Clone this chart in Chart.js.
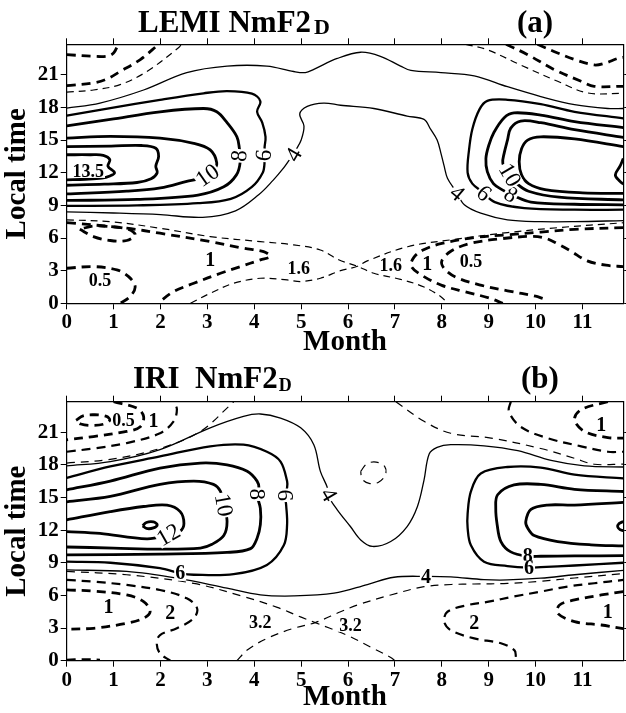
<!DOCTYPE html>
<html>
<head>
<meta charset="utf-8">
<script src="https://cdn.jsdelivr.net/npm/chart.js@4"></script>
<style>
  html, body { margin: 0; padding: 0; background: #fff; overflow: hidden; }
  #wrap { position: relative; width: 626px; height: 713px; }
  canvas { position: absolute; left: 0; }
  .ttl { position: absolute; font-family: "Liberation Serif", "Times New Roman", serif; font-weight: bold;
         font-size: 31px; line-height: 1; white-space: pre; color: #000; }
  .sub { position: relative; }
</style>
</head>
<body>
<div id="wrap">
  <canvas id="chartA" width="626" height="360" style="top:0"></canvas>
  <canvas id="chartB" width="626" height="355" style="top:360px"></canvas>
  <div class="ttl" style="left:138px;top:6px">LEMI NmF2<span class="sub" style="font-size:22px;top:2px;margin-left:3px">D</span></div>
  <div class="ttl" style="left:517px;top:6px">(a)</div>
  <div class="ttl" style="left:133px;top:362px">IRI  NmF2<span class="sub" style="font-size:18px;top:3px;margin-left:1px">D</span></div>
  <div class="ttl" style="left:521px;top:362px">(b)</div>
</div>
<script>
// axis ranges and tick labels
const monthTicks = [0, 1, 2, 3, 4, 5, 6, 7, 8, 9, 10, 11];
const hourTicks = [0, 3, 6, 9, 12, 15, 18, 21];
const monthMax = 11.87;
const hourMax = 23.8;

// ---- panel (a) LEMI contours, points are [month, local time] ----
const aTop05 = [[0,22.85],[0.57,22.7],[0.85,22.7],[1.0,23.0],[1.1,23.8]];
const aTop1 = [[0,20.0],[0.57,20.25],[0.85,20.6],[1.14,21.3],[1.57,22.4],[1.96,23.8]];
const aTop16 = [[0,19.4],[0.57,19.6],[1.14,20.1],[1.71,21.3],[2.39,23.5],[2.45,23.8]];
const aOuter = [[0,17.94],[0.71,18.4],[1.64,19.6],[2.56,21.2],[3.42,21.8],[4.27,21.8],[4.84,21.3],[5.09,21.2],[5.27,21.5],[5.77,22.5],[6.27,23.07],[6.69,22.7],[7.12,21.8],[7.34,21.4],[7.98,21.2],[8.69,20.9],[9.4,19.9],[10.11,19.0],[10.83,18.25],[11.54,17.9],[11.87,17.9]];
const a4 = [[0,8.4],[1.0,8.3],[2.0,8.15],[2.9,7.9],[3.6,8.5],[4.1,10.0],[4.4,11.3],[4.6,12.3],[4.75,13.2],[4.9,14.2],[5.0,15.0],[5.06,16.3],[4.97,17.4],[5.13,18.1],[5.48,18.4],[5.84,18.2],[6.55,17.9],[7.26,17.2],[7.62,16.9],[7.76,16.0],[7.9,15.0],[7.98,13.8],[8.05,12.6],[8.12,11.5],[8.3,10.3],[8.48,9.05],[8.83,8.28],[9.4,7.67],[10.11,7.5],[10.83,7.5],[11.87,7.6]];
const a6L = [[0,17.24],[0.93,17.94],[1.99,18.7],[2.92,19.3],[3.42,19.5],[3.95,19.26],[4.13,18.56],[4.06,17.6],[4.17,16.6],[4.24,15.3],[4.22,14.3],[4.22,13.0],[4.18,12.0],[3.95,10.7],[3.5,9.6],[2.8,9.2],[1.5,9.0],[0,8.95]];
const a8L = [[0,16.3],[0.93,16.9],[1.99,17.6],[2.92,17.9],[3.2,17.6],[3.42,16.6],[3.63,15.3],[3.68,14.3],[3.7,13.0],[3.62,11.8],[3.35,10.7],[2.8,9.95],[1.5,9.55],[0,9.45]];
const a10L = [[0,15.18],[0.93,15.34],[1.99,15.18],[2.71,14.7],[3.06,14.1],[3.2,12.9],[3.12,12.2],[2.85,11.5],[2.56,11.2],[2.0,10.6],[1.28,10.3],[0,10.05]];
const a12L = [[0,14.4],[0.95,14.45],[1.6,14.5],[1.9,14.25],[1.96,13.5],[1.9,12.6],[1.93,12.0],[1.8,11.45],[1.5,11.1],[0.8,10.95],[0,10.85]];
const a135L = [[0,13.65],[0.5,13.65],[0.78,13.6],[0.92,13.2],[0.88,12.6],[1.02,12.0],[0.92,11.7],[0.75,11.5],[0.4,11.4],[0,11.35]];
const a6R = [[11.87,17.0],[10.83,17.6],[10.11,18.3],[9.4,18.7],[8.97,18.6],[8.8,17.8],[8.65,16.0],[8.58,14.1],[8.55,12.0],[8.65,11.0],[8.85,10.3],[9.13,9.3],[9.76,8.75],[10.83,8.6],[11.87,8.6]];
const a8R = [[11.87,16.15],[10.83,16.7],[10.11,17.3],[9.54,17.5],[9.33,17.06],[9.11,15.7],[9.0,14.5],[8.94,13.3],[8.97,12.1],[9.1,11.0],[9.3,10.4],[9.55,9.85],[9.9,9.3],[10.83,9.1],[11.87,9.05]];
const a10R = [[11.87,15.25],[10.83,15.95],[10.11,16.6],[9.68,16.75],[9.47,16.1],[9.4,15.0],[9.33,13.8],[9.3,12.9],[9.4,12.0],[9.6,11.0],[9.85,10.3],[10.5,9.75],[11.87,9.5]];
const a12R = [[11.87,14.4],[10.83,15.1],[10.11,15.3],[9.83,15.0],[9.7,14.2],[9.65,13.0],[9.7,11.8],[9.85,11.0],[10.2,10.45],[11.0,10.15],[11.87,10.1]];
const a135R = [[11.87,13.3],[11.8,12.6],[11.7,11.8],[11.8,11.2],[11.87,10.95]];
const aTopR05 = [[10.04,23.8],[10.47,23.0],[10.83,22.4],[11.25,21.9],[11.47,22.05],[11.75,22.5],[11.87,22.6]];
const aTopR1 = [[9.37,23.8],[9.83,22.85],[10.4,21.47],[10.97,20.4],[11.25,19.94],[11.87,19.94]];
const aTopR16 = [[8.51,23.8],[8.97,23.3],[9.68,21.9],[10.47,20.4],[11.11,19.33],[11.87,19.3]];
const aNight16a = [[0,7.67],[0.93,7.5],[1.99,6.9],[3.06,6.13],[4.13,5.67],[4.84,5.37],[5.41,4.9],[5.8,4.0],[6.2,3.4],[6.55,2.76],[7.12,2.2],[7.62,1.5],[7.98,0.61],[8.12,0]];
const aNight16b = [[2.64,0],[3.06,0.92],[3.56,1.84],[4.13,2.3],[4.7,2.15],[5.0,2.0],[5.41,2.3],[5.84,3.0],[6.2,3.4],[6.41,3.9],[7.27,5.2],[8.19,5.83],[9.4,6.5],[10.47,6.95],[11.87,7.4]];
const aNight1L = [[0,7.42],[1.28,6.9],[1.99,6.44],[3.06,5.67],[3.77,5.06],[4.2,4.75],[4.34,4.3],[4.13,3.99],[3.7,3.37],[3.28,2.76],[2.71,1.84],[2.28,1.07],[1.99,0.15],[1.97,0]];
const aLoop05 = [[0.28,6.8],[0.57,6.13],[0.93,5.77],[1.28,5.77],[1.46,6.29],[1.32,6.8],[0.93,7.05],[0.57,7.1],[0.28,6.8]];
const aNight05L = [[0,3.22],[0.57,3.37],[1.07,3.07],[1.32,2.45],[1.46,1.53],[1.35,0.61],[1.14,0]];
const aNight1R = [[9.3,0],[9.0,0.5],[8.5,1.05],[8.0,1.65],[7.6,2.5],[7.35,3.4],[7.4,4.2],[7.6,4.9],[8.0,5.5],[8.7,6.05],[9.4,6.3],[10.11,6.55],[10.83,6.8],[11.87,6.95]];
const aNight05R = [[10.15,0.45],[10.0,0.65],[9.4,1.15],[8.8,1.7],[8.3,2.4],[8.05,3.2],[8.0,3.9],[8.2,4.8],[8.6,5.5],[9.3,5.95],[9.9,6.15],[10.2,6.0],[10.5,5.4],[10.75,4.8],[11.1,3.9],[11.5,3.5],[11.87,3.37]];

const contoursA = [
  [aTop05, 0.5], [aTop1, 1], [aTop16, 1.6], [aOuter, 3], [a4, 4],
  [a6L, 6], [a8L, 8], [a10L, 10], [a12L, 12], [a135L, 13.5],
  [a6R, 6], [a8R, 8], [a10R, 10], [a12R, 12], [a135R, 13.5],
  [aTopR05, 0.5], [aTopR1, 1], [aTopR16, 1.6],
  [aNight16a, 1.6], [aNight16b, 1.6], [aNight1L, 1], [aLoop05, 0.5], [aNight05L, 0.5],
  [aNight1R, 1], [aNight05R, 0.5]
];
const labelsA = [["13.5",0.46,12.15],["10",3.0,11.75],["8",3.68,13.55],["6",4.2,13.6],["4",4.84,13.65],
  ["4",8.33,10.1],["6",8.9,10.1],["8",9.47,10.0],["10",9.45,11.8],
  ["0.5",0.71,2.15],["1",3.06,4.0],["1.6",4.95,3.2],["1.6",6.91,3.5],["1",7.69,3.62],["0.5",8.62,3.83]];
const anglesA = [0,-35,-85,-85,-60, 40,40,30,60, 0,0,0,0,0,0];

// ---- panel (b) IRI contours ----
const b05 = [[0.2,22.1],[0.35,22.5],[0.6,22.6],[0.85,22.45],[0.92,22.1],[0.8,21.75],[0.55,21.62],[0.3,21.75],[0.2,22.1]];
const bTop1 = [[1.0,23.8],[1.5,23.2],[1.64,22.45],[1.57,21.5],[1.28,21.07],[0.57,20.6],[0,20.3]];
const bTop2 = [[0,19.2],[0.57,19.5],[1.28,20.0],[1.99,20.9],[2.28,22.0],[2.35,23.1],[2.28,23.8]];
const bTop32 = [[0,18.16],[0.93,18.5],[1.99,19.5],[2.85,21.07],[3.49,23.5],[3.56,23.8]];
const b4 = [[0,17.9],[0.93,18.3],[1.99,19.4],[3.06,21.4],[3.77,22.45],[4.13,22.67],[4.56,22.3],[4.99,21.4],[5.27,19.85],[5.41,17.4],[5.56,15.9],[5.6,15.0],[5.77,13.87],[6.05,12.33],[6.27,11.1],[6.52,10.5],[6.91,10.95],[7.26,12.33],[7.48,14.17],[7.62,16.6],[7.73,19.0],[7.9,19.6],[8.19,19.85],[8.9,19.75],[9.62,19.3],[10.33,18.4],[11.04,17.9],[11.87,17.8]];
const b4low = [[0,8.34],[1.28,8.2],[2.35,7.58],[3.42,6.66],[4.13,6.05],[4.84,5.95],[5.7,6.2],[6.41,7.0],[6.98,7.67],[7.66,7.75],[8.19,7.7],[8.9,7.45],[9.4,7.42],[10.11,7.58],[10.83,7.9],[11.87,8.3]];
const b6L = [[0,16.8],[0.93,17.85],[1.99,18.77],[3.06,19.7],[3.77,19.85],[4.27,19.2],[4.56,18.3],[4.7,16.5],[4.7,15.9],[4.66,15.2],[4.68,14.3],[4.7,12.5],[4.63,10.6],[4.27,8.8],[3.56,7.95],[2.71,7.9],[2.42,8.05],[1.99,8.5],[0.93,9.0],[0,9.1]];
const b8L = [[0,15.7],[0.93,16.5],[1.99,17.7],[2.85,18.16],[3.42,18.0],[3.85,17.4],[4.06,16.5],[4.1,15.86],[4.06,15.25],[4.13,14.0],[4.13,12.5],[4.06,11.26],[3.92,10.3],[3.42,9.95],[1.99,9.8],[0,9.72]];
const b10L = [[0,14.6],[0.93,15.1],[1.99,16.2],[2.71,16.5],[3.13,16.2],[3.28,15.55],[3.35,14.3],[3.42,12.8],[3.35,11.5],[3.1,10.7],[2.85,10.35],[2.0,10.25],[1.0,10.35],[0,10.45]];
const b12L = [[0,12.94],[0.93,13.7],[1.64,14.17],[2.14,14.3],[2.42,13.7],[2.5,12.6],[2.42,11.9],[2.17,11.56],[1.71,11.2],[0.71,11.7],[0,11.87]];
const b12Loop = [[1.62,12.4],[1.7,12.7],[1.85,12.75],[1.93,12.5],[1.85,12.2],[1.7,12.15],[1.62,12.4]];
const b6R = [[11.87,16.75],[10.83,17.1],[10.11,17.75],[9.4,17.8],[8.83,17.2],[8.62,15.55],[8.55,13.5],[8.55,12.2],[8.62,10.6],[8.9,9.1],[9.4,8.7],[9.86,8.55],[10.11,8.6],[10.83,8.75],[11.87,9.0]];
const b8R = [[11.87,15.55],[10.83,15.75],[10.11,16.2],[9.54,16.15],[9.19,15.25],[9.15,14.0],[9.18,12.5],[9.26,10.95],[9.47,10.0],[9.83,9.6],[10.11,9.6],[10.83,9.63],[11.87,9.65]];
const b10R = [[11.87,14.55],[10.83,14.3],[10.25,14.3],[9.9,13.9],[9.79,12.8],[9.83,12.2],[9.97,11.5],[10.47,10.95],[11.18,10.65],[11.87,10.55]];
const b12R = [[11.87,12.8],[11.78,12.6],[11.75,12.3],[11.8,12.05],[11.87,11.95]];
const bTopR32 = [[7.02,23.8],[7.62,22.0],[8.19,20.9],[9.05,20.46],[10.11,19.5],[10.83,18.6],[11.25,18.05],[11.87,18.07]];
const bTopR2 = [[9.47,23.8],[9.43,22.9],[9.68,21.5],[10.25,20.46],[10.97,19.7],[11.54,19.2],[11.87,19.2]];
const bTopR1 = [[11.54,23.8],[10.97,23.07],[10.83,22.15],[11.04,21.07],[11.54,20.5],[11.87,20.46]];
const bMidLoop = [[6.27,17.4],[6.4,18.1],[6.6,18.25],[6.78,17.85],[6.8,17.1],[6.65,16.4],[6.45,16.3],[6.3,16.7],[6.27,17.4]];
const bNight32a = [[0,8.2],[1.28,7.9],[2.71,7.1],[3.77,5.9],[4.49,4.9],[5.0,4.0],[5.3,3.5],[5.6,3.0],[6.0,2.3],[6.55,1.1],[6.91,0.3],[7.0,0]];
const bNight32b = [[3.63,0],[3.85,0.98],[4.27,2.05],[4.84,2.98],[5.3,3.5],[5.84,4.5],[6.2,5.12],[6.91,6.04],[7.62,6.8],[8.2,7.0],[8.69,7.05],[9.4,7.1],[10.11,7.3],[10.83,7.6],[11.87,8.0]];
const bNight2L = [[0,7.42],[0.57,7.27],[1.28,6.96],[1.99,6.5],[2.56,5.74],[2.78,4.82],[2.71,3.9],[2.35,2.98],[1.99,2.36],[1.92,1.6],[1.99,0.67],[2.21,0]];
const bNight1L = [[0,6.5],[0.57,6.4],[1.28,6.04],[1.64,5.43],[1.78,4.51],[1.64,3.9],[1.28,3.44],[0.57,2.98],[0,2.9]];
const bNight1B = [[0,0.06],[0.35,0.1],[0.71,0.06]];
const bNight2R = [[9.58,0.35],[9.55,0.95],[9.26,1.6],[8.69,2.05],[8.19,2.8],[8.05,3.6],[8.12,4.5],[8.54,5.1],[8.97,5.4],[9.54,5.9],[10.11,6.35],[10.68,6.81],[11.25,7.12],[11.87,7.42]];
const bNight1R = [[11.87,6.35],[11.4,6.04],[10.83,5.58],[10.51,5.12],[10.47,4.36],[10.83,3.59],[11.4,3.28],[11.87,2.94]];

const contoursB = [
  [b05, 0.5], [bTop1, 1], [bTop2, 2], [bTop32, 3.2], [b4, 4], [b4low, 4],
  [b6L, 6], [b8L, 8], [b10L, 10], [b12L, 12], [b12Loop, 12],
  [b6R, 6], [b8R, 8], [b10R, 10], [b12R, 12],
  [bTopR32, 3.2], [bTopR2, 2], [bTopR1, 1], [bMidLoop, 3.2],
  [bNight32a, 3.2], [bNight32b, 3.2], [bNight2L, 2], [bNight1L, 1], [bNight1B, 1],
  [bNight2R, 2], [bNight1R, 1]
];
const labelsB = [["0.5",1.21,22.1],["1",1.85,22.0],["10",3.35,14.3],["8",4.06,15.3],["6",4.66,15.2],["4",5.59,15.25],
  ["12",2.17,11.56],["6",2.42,8.05],["4",7.66,7.73],["8",9.83,9.6],["6",9.86,8.5],
  ["1",11.4,21.7],["1",0.89,4.97],["2",2.21,4.36],["3.2",4.13,3.55],["3.2",6.05,3.28],["2",8.69,3.44],["1",11.54,4.5]];
const anglesB = [0,0,80,90,90,60, -30,0,0,0,0, 0,0,0,0,0,0,0];

Chart.defaults.font.family = '"Liberation Serif", "Times New Roman", serif';
Chart.defaults.color = '#000';

// line look by contour level
function lineStyle(v) {
  if (v <= 1) return { w: 2.8, dash: [9, 6] };
  if (v === 1.6) return { w: 1.2, dash: [7, 5] };
  if (v === 2) return { w: 2.2, dash: [9, 6] };
  if (v === 3.2) return { w: 1.2, dash: [8, 6] };
  if (v <= 4) return { w: 1.3, dash: [] };
  if (v === 6) return { w: 2.3, dash: [] };
  return { w: 2.8, dash: [] };
}

function toDatasets(list) {
  return list.map(([pts, v]) => {
    const s = lineStyle(v);
    return {
      label: String(v),
      data: pts.map(p => ({ x: p[0], y: p[1] })),
      showLine: true,
      borderColor: '#000',
      borderWidth: s.w,
      borderDash: s.dash,
      pointRadius: 0,
      tension: 0.35,
      fill: false
    };
  });
}

// contour value labels, drawn through the scales
function labelPlugin(items, angles) {
  return {
    id: 'contourLabels',
    afterDatasetsDraw(chart) {
      const { ctx, scales: { x, y } } = chart;
      ctx.save();
      items.forEach((it, i) => {
        const ang = angles[i] || 0;
        const px = x.getPixelForValue(it[1]);
        const py = y.getPixelForValue(it[2]);
        let size = 18, weight = 'bold';
        if (ang !== 0) { size = 23; weight = 'normal'; }
        else if (it[0].length === 1) size = 20;
        ctx.font = weight + ' ' + size + 'px "Liberation Serif", serif';
        const w = ctx.measureText(it[0]).width;
        ctx.translate(px, py);
        ctx.rotate(ang * Math.PI / 180);
        ctx.fillStyle = '#fff';
        ctx.fillRect(-w / 2 - 1, -size * 0.38, w + 2, size * 0.76);
        ctx.fillStyle = '#000';
        ctx.textAlign = 'center';
        ctx.textBaseline = 'middle';
        ctx.fillText(it[0], 0, 1);
        ctx.setTransform(1, 0, 0, 1, 0, 0);
      });
      ctx.restore();
    }
  };
}

function makeChart(id, contours, labels, angles, xHeight, x2Height) {
  const gridOpts = (len) => ({ drawOnChartArea: false, drawTicks: true, tickLength: len, color: '#000', lineWidth: 1 });
  const border = { display: true, color: '#000', width: 1.2 };
  return new Chart(document.getElementById(id), {
    type: 'scatter',
    data: { datasets: toDatasets(contours) },
    options: {
      responsive: false,
      animation: false,
      devicePixelRatio: 1,
      layout: { padding: 0 },
      plugins: { legend: { display: false }, tooltip: { enabled: false } },
      scales: {
        x: {
          type: 'linear', position: 'bottom', min: 0, max: monthMax,
          afterBuildTicks: s => { s.ticks = monthTicks.map(v => ({ value: v })); },
          afterFit: s => { s.height = xHeight; },
          ticks: { font: { size: 21, weight: 'bold' }, padding: 1, maxRotation: 0, autoSkip: false, color: '#000' },
          grid: gridOpts(6), border: border,
          title: { display: true, text: 'Month', font: { size: 29, weight: 'bold' }, padding: 0, color: '#000' }
        },
        x2: {
          type: 'linear', axis: 'x', position: 'top', min: 0, max: monthMax,
          afterBuildTicks: s => { s.ticks = monthTicks.map(v => ({ value: v })); },
          afterFit: s => { s.height = x2Height; },
          ticks: { display: false }, grid: gridOpts(6), border: border
        },
        y: {
          type: 'linear', position: 'left', min: 0, max: hourMax,
          afterBuildTicks: s => { s.ticks = hourTicks.map(v => ({ value: v })); },
          afterFit: s => { s.width = 66.7; },
          ticks: { font: { size: 21, weight: 'bold' }, padding: 2, autoSkip: false, color: '#000' },
          grid: gridOpts(6), border: border,
          title: { display: true, text: 'Local time', font: { size: 29, weight: 'bold' }, padding: 0, color: '#000' }
        },
        y2: {
          type: 'linear', axis: 'y', position: 'right', min: 0, max: hourMax,
          afterBuildTicks: s => { s.ticks = hourTicks.map(v => ({ value: v })); },
          afterFit: s => { s.width = 2.7; },
          ticks: { display: false }, grid: gridOpts(4), border: border
        }
      }
    },
    plugins: [labelPlugin(labels, angles)]
  });
}

makeChart('chartA', contoursA, labelsA, anglesA, 56.7, 44.3);
makeChart('chartB', contoursB, labelsB, anglesB, 54.3, 41.7);
</script>
</body>
</html>
